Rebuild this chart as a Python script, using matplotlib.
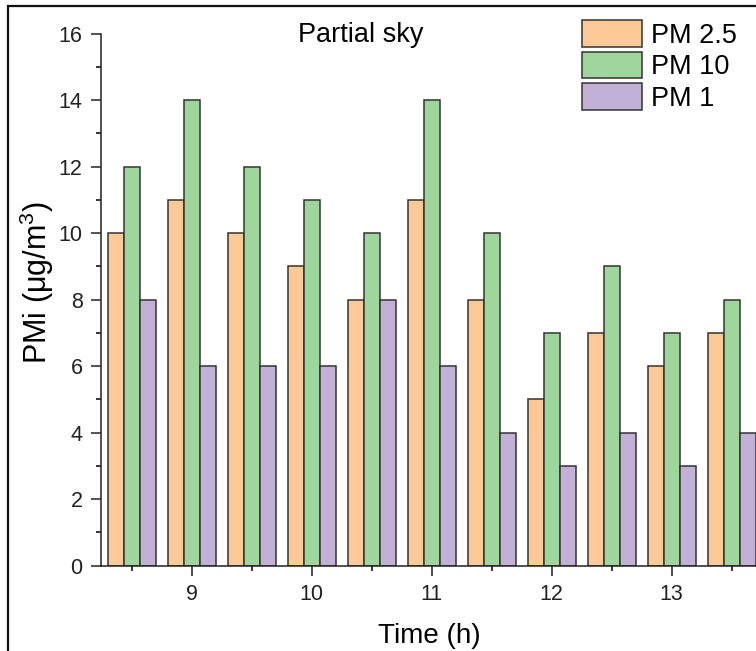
import matplotlib.pyplot as plt
from matplotlib.patches import Rectangle
import numpy as np

plt.rcParams['font.family'] = ['Liberation Sans', 'DejaVu Sans']
plt.rcParams['mathtext.default'] = 'regular'

# hourly readings, every half hour
hours = [8.5, 9, 9.5, 10, 10.5, 11, 11.5, 12, 12.5, 13, 13.5]
pm25 = [10, 11, 10, 9, 8, 11, 8, 5, 7, 6, 7]
pm10 = [12, 14, 12, 11, 10, 14, 10, 7, 9, 7, 8]
pm1 = [8, 6, 6, 6, 8, 6, 4, 3, 4, 3, 4]

series = [('PM 2.5', pm25, '#fdc997'), ('PM 10', pm10, '#9ed69c'), ('PM 1', pm1, '#c1b1d6')]

fig = plt.figure(figsize=(7.56, 6.51), dpi=100)
ax = fig.add_axes([101 / 756, (651 - 565.7) / 651, 657 / 756, 532 / 651])

w = 0.133
x = np.array(hours)
for i, (name, vals, col) in enumerate(series):
    ax.bar(x + (i - 1) * w, vals, width=w, color=col, edgecolor='#333333',
           linewidth=1.1, label=name, zorder=2)

ax.set_xlim(8.244, 13.72)
ax.set_ylim(0, 16)
ax.set_xticks([9, 10, 11, 12, 13])
ax.set_xticks(hours, minor=True)
ax.set_yticks(range(0, 17, 2))
ax.set_yticks(range(1, 16, 2), minor=True)
ax.tick_params(axis='both', which='major', length=7.2, width=1.1, labelsize=15.5,
               colors='#222222', pad=6)
ax.tick_params(axis='both', which='minor', length=3.5, width=1.1)
ax.spines['top'].set_visible(False)
ax.spines['right'].set_visible(False)
for s in ['left', 'bottom']:
    ax.spines[s].set_linewidth(1.1)
    ax.spines[s].set_color('#222222')

ax.set_xlabel('Time (h)', fontsize=20, labelpad=13)
ax.set_ylabel('PMi (μg/m$^{3}$)', fontsize=22)
ax.yaxis.set_label_coords(-0.068, 0.532)
ax.text(10.41, 15.75, 'Partial sky', fontsize=19.5, ha='center', va='baseline')

ax.legend(loc='upper left', bbox_to_anchor=(582 / 756, (651 - 20) / 651),
          bbox_transform=fig.transFigure, frameon=False, fontsize=19.5,
          handlelength=2.2, handleheight=1.15, labelspacing=0.11,
          handletextpad=0.33, borderpad=0, borderaxespad=0)

# outer frame around the figure
fig.patches.append(Rectangle((8 / 756, -0.1), 1.2, (651 - 6) / 651 + 0.1,
                             transform=fig.transFigure, fill=False,
                             edgecolor='#111111', linewidth=1.6))

fig.savefig('out.png', dpi=100)
